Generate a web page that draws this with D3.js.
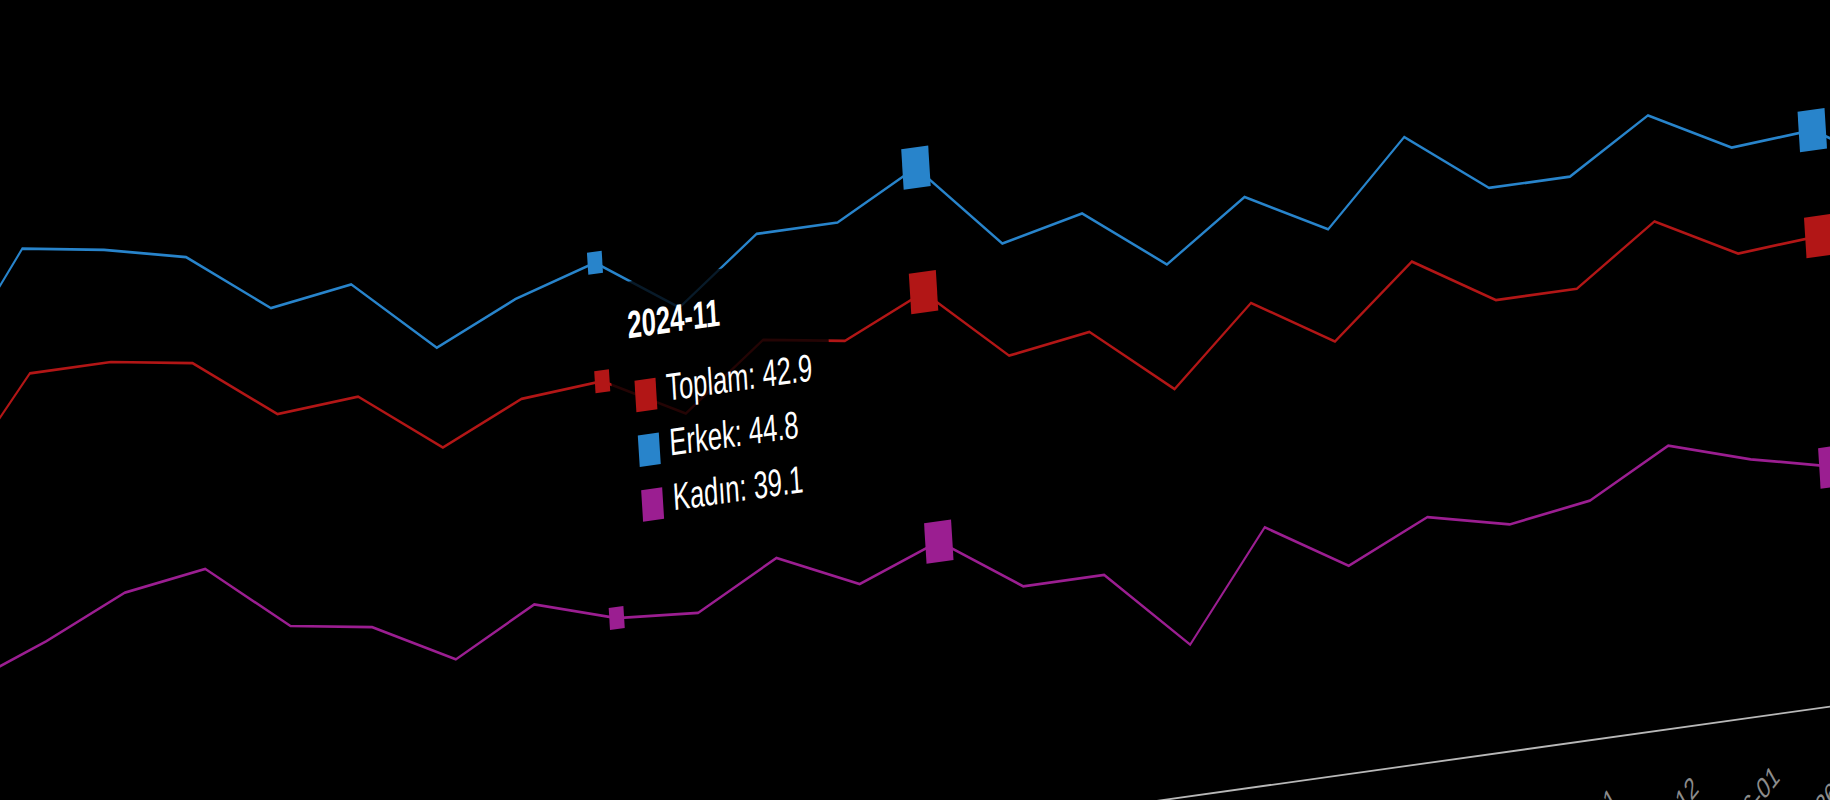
<!DOCTYPE html>
<html><head><meta charset="utf-8">
<script src="https://cdn.jsdelivr.net/npm/d3@7"></script>
<style>
html,body{margin:0;padding:0;background:#000;overflow:hidden;}
svg{display:block;}
text{font-family:"Liberation Sans", Arial, Helvetica, sans-serif;}
</style></head><body>
<svg id="chart" width="1830" height="800"></svg>
<script>
// ---- data ----
const months = ["2024-03","2024-04","2024-05","2024-06","2024-07","2024-08","2024-09","2024-10","2024-11","2024-12",
  "2025-01","2025-02","2025-03","2025-04","2025-05","2025-06","2025-07","2025-08","2025-09","2025-10","2025-11","2025-12",
  "2026-01","2026-02","2026-03"];
const toplam = [42.7,44.3,44.3,44.1,43.1,43.2,42.2,42.8,42.9,42.2,43.2,43.0,43.6,42.4,42.6,41.5,42.7,41.9,43.0,42.2,42.2,43.1,42.4,42.5,41.8];
const erkek  = [44.5,46.3,46.1,45.8,44.8,45.0,43.8,44.4,44.8,43.9,44.9,44.9,45.6,44.2,44.5,43.5,44.4,43.7,45.0,44.0,44.0,44.8,44.1,44.2,43.4];
const kadin  = [39.5,40.0,40.6,40.8,39.7,39.5,38.8,39.5,39.1,39.0,39.7,39.1,39.6,38.7,38.7,37.4,39.1,38.3,38.9,38.6,38.8,39.5,39.1,38.8,38.5];
const seriesNames  = ["Toplam","Erkek","Kadın"];
const seriesColors = ["#b21616","#2884cb","#9b1e91"];
const hoverMonth = "2024-11";
const highlightMonths = ["2025-03","2026-02"];
const yDomain = [35, 47];

const seriesValues = [toplam, erkek, kadin];
const series = seriesNames.map((n,k)=>({name:n,color:seriesColors[k],values:seriesValues[k]}));

// ---- layout (flat chart, then projected onto the tilted plane) ----
const W = 81*(months.length-1), H = 498.6;
const svg = d3.select("#chart");
const g = svg.append("g").attr("transform","matrix(1,-0.14,0.0917,1.5,-61.4,216.4)");

const x = d3.scalePoint().domain(months).range([0, W]);
const y = d3.scaleLinear().domain(yDomain).range([H, 0]);

// x axis
const ax = g.append("g").attr("transform",`translate(0,${H})`)
  .call(d3.axisBottom(x).tickSize(0).tickPadding(0));
ax.select(".domain").attr("stroke","#b8b8b8").attr("stroke-width",1.2);
ax.selectAll(".tick text")
  .attr("y",0).attr("dy",null).attr("x",0)
  .attr("text-anchor","end")
  .attr("fill","#8c8c8c")
  .attr("font-size",20)
  .attr("transform","translate(10,44) rotate(-35)");

// lines
const line = d3.line().x((d,i)=>x(months[i])).y(d=>y(d));
g.selectAll("path.series").data(series).join("path")
  .attr("class","series")
  .attr("fill","none")
  .attr("stroke",d=>d.color)
  .attr("stroke-width",1.8)
  .attr("stroke-linejoin","miter")
  .attr("d",d=>line(d.values));

// highlighted markers
const big = 27, small = 14.7;
series.forEach(s=>{
  highlightMonths.forEach(m=>{
    const i = months.indexOf(m);
    g.append("rect").attr("x",x(m)-big/2).attr("y",y(s.values[i])-big/2)
      .attr("width",big).attr("height",big).attr("fill",s.color);
  });
  const hi = months.indexOf(hoverMonth);
  g.append("rect").attr("x",x(hoverMonth)-small/2).attr("y",y(s.values[hi])-small/2)
    .attr("width",small).attr("height",small).attr("fill",s.color);
});

// tooltip
const hi = months.indexOf(hoverMonth);
const tx = x(hoverMonth) + 9;
const ty = y(d3.max(series, s=>s.values[hi])) + 15.6;
const tip = g.append("g").attr("transform",`translate(${tx},${ty})`);
tip.append("rect").attr("x",0).attr("y",0).attr("width",218).attr("height",172)
  .attr("rx",4).attr("fill","rgba(0,0,0,0.8)");
tip.append("text").attr("x",19.5).attr("y",37.4).attr("fill","#fff")
  .attr("font-size",25.5).attr("font-weight","bold").text(hoverMonth);
series.forEach((s,k)=>{
  const cy = 76.5 + k*36.5;
  tip.append("rect").attr("x",23).attr("y",cy-10.5).attr("width",21).attr("height",21).attr("fill",s.color);
  tip.append("text").attr("x",54).attr("y",cy+5.8).attr("fill","#fff")
    .attr("font-size",25.5).text(`${s.name}: ${s.values[hi].toFixed(1)}`);
});
</script>
</body></html>
